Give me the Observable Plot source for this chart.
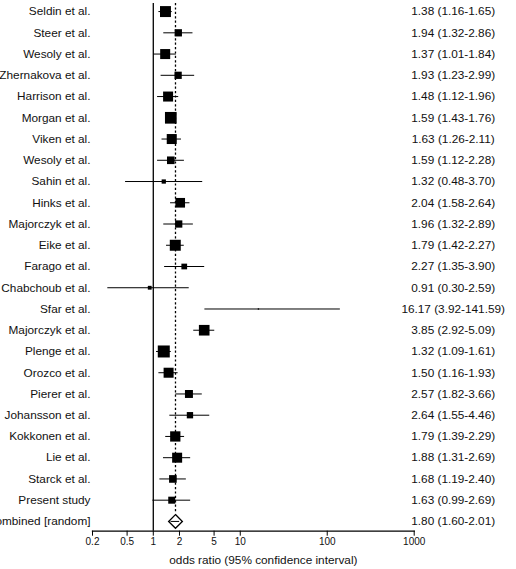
<!DOCTYPE html>
<html>
<head>
<meta charset="utf-8">
<script src="https://cdn.jsdelivr.net/npm/d3@7"></script>
<script src="https://cdn.jsdelivr.net/npm/@observablehq/plot@0.6"></script>
<style>
  html, body { margin: 0; padding: 0; background: #fff; }
  #chart svg { display: block; }
</style>
</head>
<body>
<div id="chart"></div>
<script>
const studies = ["Seldin et al.", "Steer et al.", "Wesoly et al.", "Zhernakova et al.", "Harrison et al.", "Morgan et al.", "Viken et al.", "Wesoly et al.", "Sahin et al.", "Hinks et al.", "Majorczyk et al.", "Eike et al.", "Farago et al.", "Chabchoub et al.", "Sfar et al.", "Majorczyk et al.", "Plenge et al.", "Orozco et al.", "Pierer et al.", "Johansson et al.", "Kokkonen et al.", "Lie et al.", "Starck et al.", "Present study"];
const oddsRatio = [1.38, 1.94, 1.37, 1.93, 1.48, 1.59, 1.63, 1.59, 1.32, 2.04, 1.96, 1.79, 2.27, 0.91, 16.17, 3.85, 1.32, 1.50, 2.57, 2.64, 1.79, 1.88, 1.68, 1.63];
const lower = [1.16, 1.32, 1.01, 1.23, 1.12, 1.43, 1.26, 1.12, 0.48, 1.58, 1.32, 1.42, 1.35, 0.30, 3.92, 2.92, 1.09, 1.16, 1.82, 1.55, 1.39, 1.31, 1.19, 0.99];
const upper = [1.65, 2.86, 1.84, 2.99, 1.96, 1.76, 2.11, 2.28, 3.70, 2.64, 2.89, 2.27, 3.90, 2.59, 141.59, 5.09, 1.61, 1.93, 3.66, 4.46, 2.29, 2.69, 2.40, 2.69];
const weight = [6.6, 2.9, 5.5, 2.9, 5.5, 7.5, 5.5, 3.2, 1.0, 5.1, 2.9, 6.6, 1.8, 0.8, 0.1, 6.2, 7.9, 5.5, 3.5, 2.2, 5.8, 5.5, 3.2, 2.7];

const combinedLabel = "Combined [random]";
const combinedOR = 1.80;
const combinedLower = 1.60;
const combinedUpper = 2.01;

const xTicks = [0.2, 0.5, 1, 2, 5, 10, 100, 1000];
const xTitle = "odds ratio (95% confidence interval)";

const fmt = v => v.toFixed(2);
const rows = studies.map((s, i) => ({
  row: i, study: s, or: oddsRatio[i], lo: lower[i], hi: upper[i], w: weight[i],
  text: `${fmt(oddsRatio[i])} (${fmt(lower[i])}-${fmt(upper[i])})`
}));
const combRow = studies.length;
const comb = [{row: combRow, study: combinedLabel, or: combinedOR, lo: combinedLower, hi: combinedUpper,
  text: `${fmt(combinedOR)} (${fmt(combinedLower)}-${fmt(combinedUpper)})`}];
const allRows = rows.concat(comb);

const yTop = -0.38;
const yBottom = combRow + 0.46;
const tickData = xTicks.map(v => ({ v, label: String(v) }));

const font = "'Liberation Sans', Arial, Helvetica, sans-serif";

const chart = Plot.plot({
  width: 516,
  height: 569,
  marginLeft: 92,
  marginRight: 102.3,
  marginTop: 3,
  marginBottom: 38.3,
  style: { fontFamily: font, fontSize: "11.8px", color: "#000", background: "#fff", overflow: "visible" },
  x: { type: "log", domain: [0.2, 1000], axis: null },
  y: { type: "linear", domain: [yTop, yBottom], reverse: true, axis: null },
  r: { type: "sqrt", domain: [0, 7.9], range: [0, 6.77] },
  marks: [
    // reference line at OR = 1
    Plot.ruleX([1], { stroke: "#000", strokeWidth: 1.3 }),
    // dashed line at pooled estimate
    Plot.ruleX([combinedOR], { y1: yTop, y2: combRow - 0.36, stroke: "#000", strokeWidth: 1.3, strokeDasharray: "2.2,2.2" }),
    // confidence intervals
    Plot.ruleY(allRows, { y: "row", x1: "lo", x2: "hi", stroke: "#000", strokeWidth: 1 }),
    // study boxes
    Plot.dot(rows, { x: "or", y: "row", r: "w", symbol: "square", fill: "#000", stroke: "none" }),
    // pooled diamond
    Plot.dot(comb, { x: "or", y: "row", r: 6.2, symbol: "diamond2", fill: "#fff", stroke: "#000", strokeWidth: 1.3 }),
    Plot.ruleY(comb, { y: "row", x1: "lo", x2: "hi", stroke: "#000", strokeWidth: 1 }),
    // study labels
    Plot.text(allRows, { y: "row", text: "study", frameAnchor: "left", textAnchor: "end", dx: -2, fill: "#111" }),
    // estimates
    Plot.text(allRows, { y: "row", text: "text", frameAnchor: "right", textAnchor: "middle", dx: 39, fill: "#111" }),
    // x axis line
    Plot.frame({ anchor: "bottom", stroke: "#000", strokeWidth: 1.3 }),
    // x axis ticks (downward, 5px)
    Plot.ruleX(tickData, { x: "v", y1: yBottom, y2: yBottom + 5 / 21.25, stroke: "#000", strokeWidth: 1 }),
    // x tick labels
    Plot.text(tickData, { x: "v", text: "label", frameAnchor: "bottom", dy: 11, lineAnchor: "middle", fontSize: 10, fill: "#111" }),
    // x axis title
    Plot.text([xTitle], { frameAnchor: "bottom", dy: 29.5, dx: 10, lineAnchor: "middle", fill: "#111" })
  ]
});
document.getElementById("chart").appendChild(chart);
</script>
</body>
</html>
